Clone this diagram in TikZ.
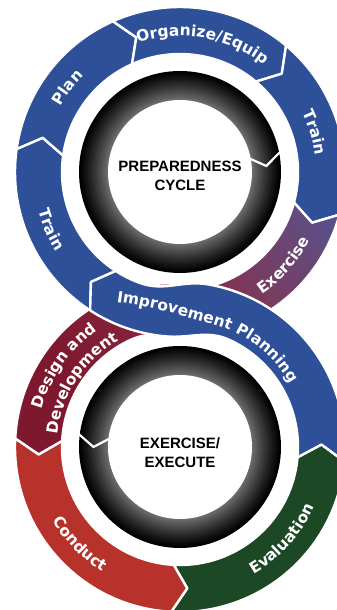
\documentclass[tikz,border=0pt]{standalone}
\usepackage{fontspec}
\usepackage{tikz}
\usetikzlibrary{calc,decorations.text}

\newfontfamily\labelfont{DejaVu Sans}
\newfontfamily\corefont{Liberation Sans}

\definecolor{pcblue}{RGB}{45,80,152}
\definecolor{ddred}{RGB}{125,24,46}
\definecolor{cdred}{RGB}{182,50,42}
\definecolor{evgreen}{RGB}{28,72,38}
\definecolor{ringgray}{RGB}{112,112,112}
\definecolor{exred}{RGB}{136,40,66}
\definecolor{exmauve}{RGB}{120,60,96}
\definecolor{expurple}{RGB}{96,76,130}
\definecolor{exblue}{RGB}{60,88,154}

\pgfdeclarehorizontalshading{exfade}{100bp}{color(0bp)=(ddred); color(30bp)=(ddred); color(52bp)=(exred); color(66bp)=(exmauve); color(79bp)=(expurple); color(92bp)=(exblue); color(100bp)=(exblue)}

\def\rout{165}
\def\rin{118}
\def\rmid{141.5}

\newcommand{\steplabel}{\labelfont\bfseries\fontsize{15.5}{17}\selectfont}

% ring piece: centre, from, to, tip offset, style
\newcommand{\cyclestep}[5]{%
  \path[#5] ($(#1)+(#2:\rout)$) arc[start angle=#2, end angle=#3, radius=\rout]
    -- ($(#1)+({#3+#4}:\rmid)$) -- ($(#1)+(#3:\rin)$)
    arc[start angle=#3, end angle=#2, radius=\rin]
    -- ($(#1)+({#2+#4}:\rmid)$) -- cycle;}

\tikzset{
  cycleedge/.style={draw=white, line width=2.4pt, line join=round},
  cyclebox/.style={cycleedge, fill=#1},
  steptext/.style={decorate, decoration={text along path, text={|\steplabel|#1}, text align=center, text color=white}},
  corelabel/.style={font=\corefont\bfseries\fontsize{15}{19}\selectfont, align=center}
}

\begin{document}
\begin{tikzpicture}[x=1pt, y=1pt]
\useasboundingbox (0,0) rectangle (337,610);
\coordinate (top) at (180,438);
\coordinate (bot) at (180,163);

% Inner rings, black rim fading to gray
\foreach \i in {0,...,29}{
  \pgfmathtruncatemacro{\fadepct}{100*(\i/29)^1.15}
  \fill[ringgray!\fadepct!black] (top) circle[radius=101-\i];
  \fill[ringgray!\fadepct!black] (bot) circle[radius=101-\i];
}
\fill[white] (top) circle[radius=72];
\fill[white] (bot) circle[radius=72];
\draw[white, line width=2.2pt] ($(top)+(12:69)$) -- ($(top)+(4:86.5)$) -- ($(top)+(12:104)$);
\draw[white, line width=2.2pt] ($(bot)+(172:69)$) -- ($(bot)+(180:86.5)$) -- ($(bot)+(172:104)$);

\node[corelabel] (prepcore) at ($(top)+(0,-4)$) {PREPAREDNESS\\CYCLE};
\node[corelabel] (execcore) at ($(bot)+(0,-6)$) {EXERCISE/\\EXECUTE};

% Top cycle
\cyclestep{top}{237}{172}{-6}{cyclebox=pcblue}
\cyclestep{top}{172}{114}{-6}{cyclebox=pcblue}
\cyclestep{top}{114}{50}{-6}{cyclebox=pcblue}
\cyclestep{top}{50}{-15}{-6}{cyclebox=pcblue}

% Bottom cycle
\cyclestep{bot}{177}{267}{6}{cyclebox=cdred}
\cyclestep{bot}{267}{355}{6}{cyclebox=evgreen}

% Exercise into design, passes under
\shadedraw[shading=exfade, shading angle=37, cycleedge]
  ($(top)+(-15:\rout)$) arc[start angle=-15, end angle=-85, radius=\rout]
  to[out=185, in=25] ($(bot)+(115:\rin)$)
  arc[start angle=115, end angle=177, radius=\rin]
  -- ($(bot)+(183:\rmid)$) -- ($(bot)+(177:\rout)$)
  arc[start angle=177, end angle=100, radius=\rout]
  to[out=10, in=200] ($(top)+(-70:\rin)$)
  arc[start angle=-70, end angle=-15, radius=\rin]
  -- ($(top)+(-21:\rmid)$) -- cycle;

% Improvement planning, passes over
\filldraw[cyclebox=pcblue]
  ($(top)+(237:\rout)$) arc[start angle=237, end angle=265, radius=\rout]
  to[out=-5, in=155] ($(bot)+(65:\rin)$)
  arc[start angle=65, end angle=-5, radius=\rin]
  -- ($(bot)+(1:\rmid)$) -- ($(bot)+(-5:\rout)$)
  arc[start angle=-5, end angle=80, radius=\rout]
  to[out=170, in=-20] ($(top)+(250:\rin)$)
  arc[start angle=250, end angle=237, radius=\rin]
  -- ($(top)+(231:\rmid)$) -- cycle;

% Labels
\path[steptext=Plan] ($(top)+(170:136)$) arc[start angle=170, end angle=116, radius=136];
\path[steptext=Organize/Equip] ($(top)+(120:136)$) arc[start angle=120, end angle=40, radius=136];
\path[steptext=Train] ($(top)+(45:136)$) arc[start angle=45, end angle=-12, radius=136];
\path[steptext=Exercise] ($(top)+(-75:147)$) arc[start angle=-75, end angle=-9, radius=147];
\path[steptext=Train] ($(top)+(180:147)$) arc[start angle=180, end angle=228, radius=147];

\path[steptext=Design and] ($(bot)+(175:143)$) arc[start angle=175, end angle=115, radius=143];
\path[steptext=Development] ($(bot)+(179:123)$) arc[start angle=179, end angle=115, radius=123];
\path[steptext=Conduct] ($(bot)+(190:147)$) arc[start angle=190, end angle=258, radius=147];
\path[steptext=Evaluation] ($(bot)+(-80:147)$) arc[start angle=-80, end angle=-4, radius=147];
\path[steptext=Improvement Planning] (106,309) .. controls (145,305) and (184,294) .. ($(bot)+(75:127)$)
  arc[start angle=75, end angle=25, radius=127];
\end{tikzpicture}
\end{document}
